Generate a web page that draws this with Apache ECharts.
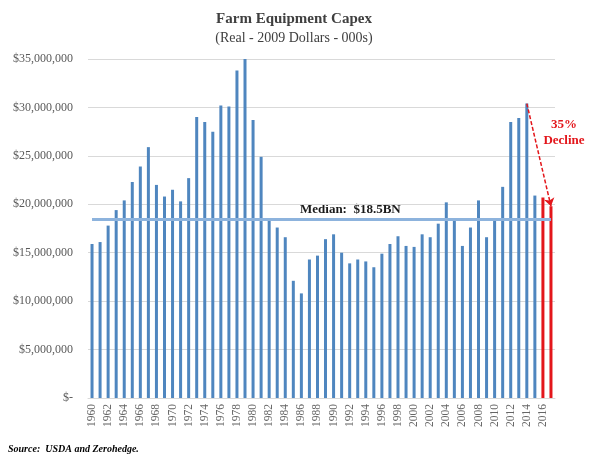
<!DOCTYPE html>
<html>
<head>
<meta charset="utf-8">
<title>Farm Equipment Capex</title>
<script src="https://cdn.jsdelivr.net/npm/echarts@6/dist/echarts.min.js"></script>
<style>
  html, body { margin: 0; padding: 0; background: #fff; }
  #chart { width: 600px; height: 463px; }
</style>
</head>
<body>
<div id="chart"></div>
<script>
// years 1960 - 2017
var years = [];
for (var y = 1960; y <= 2017; y++) years.push(String(y));

// capex, real 2009 dollars (000s)
var capex = [
  15.9, 16.1, 17.8, 19.4, 20.4, 22.3, 23.9, 25.9, 22.0, 20.8,
  21.5, 20.3, 22.7, 29.0, 28.5, 27.5, 30.2, 30.1, 33.8, 35.0,
  28.7, 24.9, 18.4, 17.6, 16.6, 12.1, 10.8, 14.3, 14.7, 16.4,
  16.9, 15.0, 13.9, 14.3, 14.1, 13.5, 14.9, 15.9, 16.7, 15.7,
  15.6, 16.9, 16.6, 18.0, 20.2, 18.5, 15.7, 17.6, 20.4, 16.6,
  18.4, 21.8, 28.5, 28.9, 30.4, 20.9, 20.7, 19.8
].map(function (v) { return Math.round(v * 1e6); });

// the last two years are drawn in red
var redYears = ["2016", "2017"];
var median = 18.5e6;
var declineFrom = "2014";
var declineTo = "2017";

var yTicks = [0, 5e6, 10e6, 15e6, 20e6, 25e6, 30e6, 35e6];

var serif = "'Liberation Serif', 'DejaVu Serif', serif";
var blue = "#4f86bf";
var red = "#e3161b";

var chart = echarts.init(document.getElementById("chart"));

var barData = capex.map(function (v, i) {
  var item = { value: v };
  if (redYears.indexOf(years[i]) >= 0) {
    item.itemStyle = { color: red };
  }
  return item;
});

chart.setOption({
  animation: false,
  title: {
    text: "Farm Equipment Capex",
    subtext: "(Real - 2009 Dollars - 000s)",
    left: 289,
    textAlign: "center",
    top: 7,
    itemGap: 4,
    textStyle: { fontFamily: serif, fontSize: 15, fontWeight: "bold", color: "#404040" },
    subtextStyle: { fontFamily: serif, fontSize: 14, color: "#404040" }
  },
  grid: {
    left: 88,
    right: 45,
    top: 59,
    bottom: 65
  },
  xAxis: {
    type: "category",
    data: years,
    boundaryGap: true,
    axisTick: { show: false },
    axisLine: { lineStyle: { color: "#d9d9d9" } },
    axisLabel: {
      interval: 1,
      rotate: 90,
      margin: 6,
      fontFamily: serif,
      fontSize: 11.5,
      color: "#666"
    }
  },
  yAxis: {
    type: "value",
    min: 0,
    max: 35e6,
    interval: 5e6,
    axisLine: { show: false },
    axisTick: { show: false },
    splitLine: { lineStyle: { color: "#d9d9d9", width: 1 } },
    axisLabel: {
      margin: 15,
      fontFamily: serif,
      fontSize: 12,
      color: "#595959",
      formatter: function (v) {
        if (yTicks.indexOf(v) < 0) return "";
        if (v === 0) return "$-";
        return "$" + v.toLocaleString("en-US");
      }
    }
  },
  series: [
    {
      type: "bar",
      data: barData,
      barWidth: 3,
      itemStyle: { color: blue },
      markLine: {
        silent: true,
        data: [
          // median line across the bars
          [
            { coord: [years[0], median], symbol: "none" },
            { coord: [years[years.length - 1], median], symbol: "none" }
          ],
          // dashed decline arrow
          [
            {
              coord: [declineFrom, capex[years.indexOf(declineFrom)]],
              symbol: "none",
              lineStyle: { color: red, type: [4, 2], width: 1.5 }
            },
            {
              coord: [declineTo, capex[years.indexOf(declineTo)]],
              symbol: "arrow",
              symbolSize: 8
            }
          ]
        ],
        lineStyle: { color: "#8db3dd", type: "solid", width: 3 },
        label: { show: false }
      }
    }
  ],
  graphic: [
    {
      type: "text",
      x: 300,
      y: 203,
      style: {
        text: "Median:  $18.5BN",
        fontFamily: serif,
        fontSize: 13,
        fontWeight: "bold",
        fill: "#1a1a1a"
      }
    },
    {
      type: "text",
      x: 564,
      y: 117,
      style: {
        text: "35%\nDecline",
        align: "center",
        lineHeight: 16,
        fontFamily: serif,
        fontSize: 13,
        fontWeight: "bold",
        fill: red
      }
    },
    {
      type: "text",
      x: 8,
      y: 444,
      style: {
        text: "Source:  USDA and Zerohedge.",
        fontFamily: serif,
        fontSize: 10,
        fontWeight: "bold",
        fontStyle: "italic",
        fill: "#000"
      }
    }
  ]
});
</script>
</body>
</html>
